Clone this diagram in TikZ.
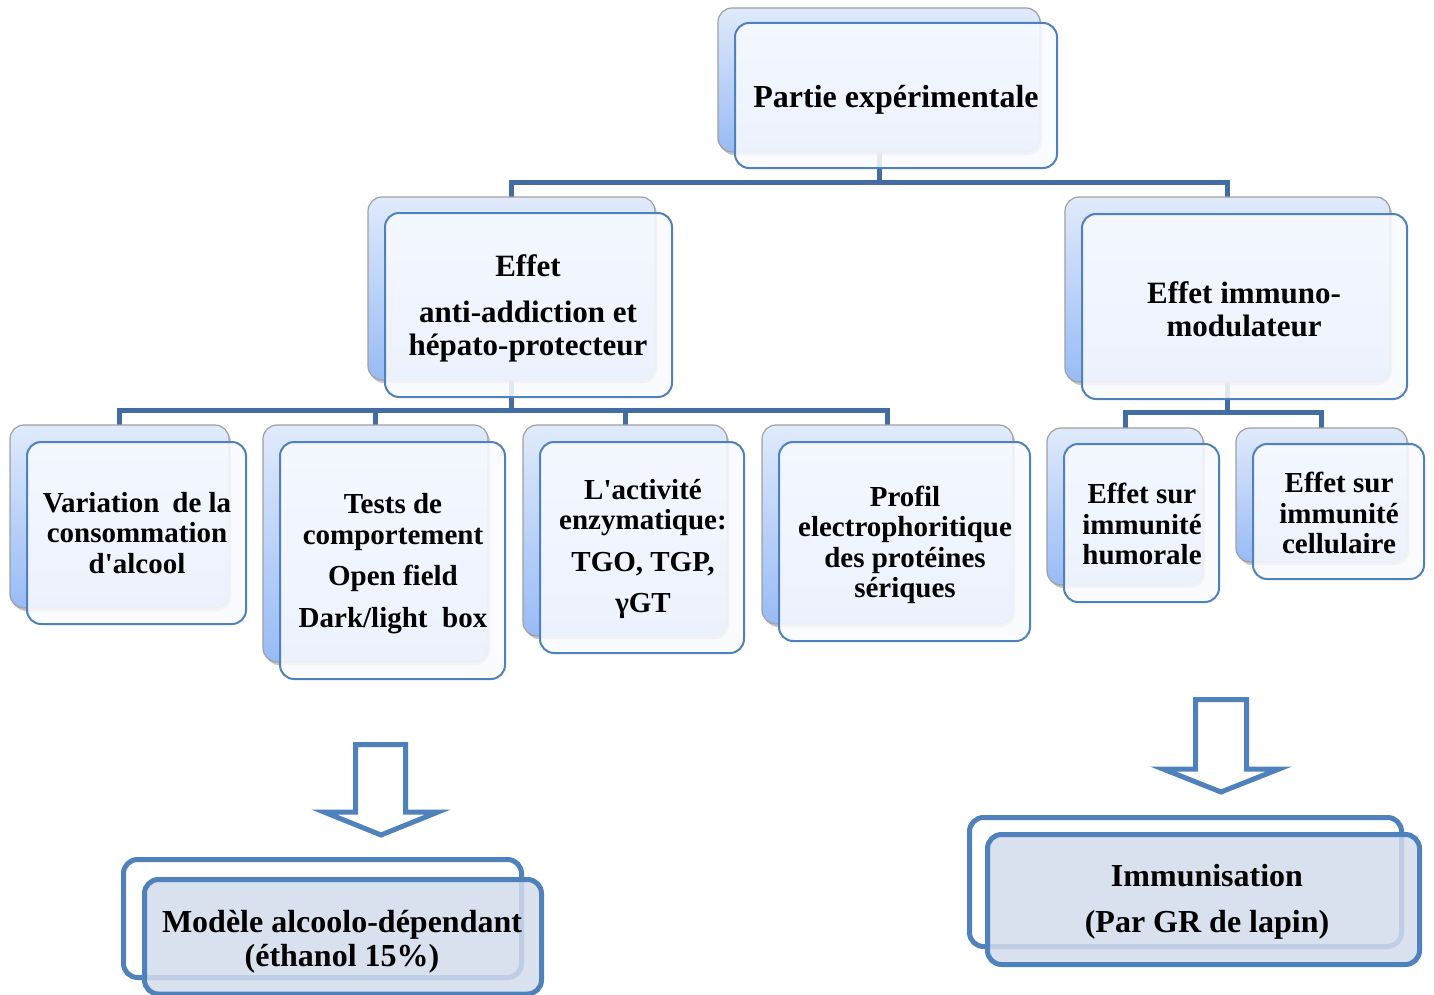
\documentclass[tikz,border=0pt]{standalone}
\usepackage{fontspec}
\setmainfont{Liberation Serif}
\usetikzlibrary{fit,shadows,calc}
\definecolor{bord}{RGB}{79,129,189}
\definecolor{conncol}{RGB}{66,108,162}
\definecolor{backtop}{RGB}{224,234,251}
\definecolor{backbot}{RGB}{152,187,245}
\definecolor{frontfill}{RGB}{248,250,255}
\definecolor{botfill}{RGB}{211,220,236}
\tikzset{
  backbox/.style={rounded corners=7pt, draw=gray!75, line width=0.6pt,
    top color=backtop, bottom color=backbot, inner sep=0pt,
    drop shadow={shadow xshift=1pt, shadow yshift=-1.5pt, opacity=0.45}},
  frontbox/.style={rounded corners=7pt, draw=bord, line width=1pt,
    fill=frontfill, fill opacity=0.88, inner sep=0pt},
  botback/.style={rounded corners=7pt, draw=bord, line width=2.5pt, fill=white, inner sep=0pt},
  botfront/.style={rounded corners=7pt, draw=bord, line width=2.5pt,
    fill=botfill, fill opacity=0.85, inner sep=0pt},
  conn/.style={draw=conncol, line width=2.5pt},
  bigarrow/.style={draw=bord, line width=2.5pt, fill=white, line join=miter},
  txtA/.style={align=center, inner sep=0pt, font=\fontsize{16}{17}\selectfont\bfseries},
  txtB/.style={align=center, inner sep=0pt, font=\fontsize{15.5}{16.5}\selectfont\bfseries},
  txtC/.style={align=center, inner sep=0pt, font=\fontsize{14.5}{15.2}\selectfont\bfseries},
}
\begin{document}
\begin{tikzpicture}[x=0.5pt,y=-0.5pt]
\useasboundingbox (0,0) rectangle (1434,995);
% junction coordinates
\coordinate (j0) at (879,182);
\coordinate (j1) at (511.5,410);
\coordinate (j2) at (1227.5,412);
% invisible anchors for connectors (back boxes positions)
\node[inner sep=0pt, fit={(718,8)(1040,152)}] (t0n) {};
\node[inner sep=0pt, fit={(368,197)(655,380)}] (l2an) {};
\node[inner sep=0pt, fit={(1065,197)(1390,382)}] (l2bn) {};
\node[inner sep=0pt, fit={(10,425)(229,608)}] (c1n) {};
\node[inner sep=0pt, fit={(263,425)(488,662)}] (c2n) {};
\node[inner sep=0pt, fit={(523,425)(727,636)}] (c3n) {};
\node[inner sep=0pt, fit={(762,425)(1013,624)}] (c4n) {};
\node[inner sep=0pt, fit={(1047,428)(1203,585)}] (c5n) {};
\node[inner sep=0pt, fit={(1236,428)(1407,562)}] (c6n) {};
\draw[conn] (t0n.south) -- (j0);
\draw[conn] (l2an.north) |- (j0) -| (l2bn.north);
\draw[conn] (l2an.south) -- (j1);
\draw[conn] (c1n.north) |- (j1) -| (c4n.north);
\draw[conn] (c2n.north) -- (c2n.north |- j1);
\draw[conn] (c3n.north) -- (c3n.north |- j1);
\draw[conn] (l2bn.south) -- (j2);
\draw[conn] (c5n.north) |- (j2) -| (c6n.north);
% boxes
\node[backbox, fit={(718,8)(1040,152)}] (t0b) {};
\node[frontbox, fit={(735,23)(1057,168)}] (t0f) {};
\node[backbox, fit={(368,197)(655,380)}] (l2ab) {};
\node[frontbox, fit={(385,213)(672,397)}] (l2af) {};
\node[backbox, fit={(1065,197)(1390,382)}] (l2bb) {};
\node[frontbox, fit={(1082,214)(1407,399)}] (l2bf) {};
\node[backbox, fit={(10,425)(229,608)}] (c1b) {};
\node[frontbox, fit={(27,442)(246,624)}] (c1f) {};
\node[backbox, fit={(263,425)(488,662)}] (c2b) {};
\node[frontbox, fit={(280,442)(505,679)}] (c2f) {};
\node[backbox, fit={(523,425)(727,636)}] (c3b) {};
\node[frontbox, fit={(540,442)(744,653)}] (c3f) {};
\node[backbox, fit={(762,425)(1013,624)}] (c4b) {};
\node[frontbox, fit={(779,442)(1030,641)}] (c4f) {};
\node[backbox, fit={(1047,428)(1203,585)}] (c5b) {};
\node[frontbox, fit={(1064,444)(1219,602)}] (c5f) {};
\node[backbox, fit={(1236,428)(1407,562)}] (c6b) {};
\node[frontbox, fit={(1253,444)(1424,579)}] (c6f) {};
% texts
\node[txtA] (t0t) at (896,100) {Partie expérimentale};
\node[txtB] (l2at) at (528,308) {Effet\\[6.5pt]anti-addiction et\\hépato-protecteur};
\node[txtB] (l2bt) at (1244,309) {Effet immuno-\\modulateur};
\node[txtC] (c1t) at (137,533) {Variation\hspace{0.45em}de la\\consommation\\d\textquotesingle alcool};
\node[txtC] (c2t) at (393,564) {Tests de\\comportement\\[5.5pt]Open field\\[6pt]Dark/light\ \ box};
\node[txtC] (c3t) at (643,549) {L\textquotesingle activité\\enzymatique:\\[5.5pt]TGO, TGP,\\[5.5pt]γGT};
\node[txtC] (c4t) at (905,545) {Profil\\electrophoritique\\des protéines\\sériques};
\node[txtC] (c5t) at (1142,524) {Effet sur\\immunité\\humorale};
\node[txtC] (c6t) at (1339,513) {Effet sur\\immunité\\cellulaire};
% big arrows
\draw[bigarrow] (355.5,744.5) -- (405.5,744.5) -- (405.5,812) -- (438,812) -- (381,835) -- (324,812) -- (355.5,812) -- cycle;
\draw[bigarrow] (1195.5,699.5) -- (1246.5,699.5) -- (1246.5,769) -- (1279,769) -- (1221,792) -- (1163,769) -- (1195.5,769) -- cycle;
% bottom boxes
\node[botback, fit={(123.5,859.5)(521.5,977.5)}] (m1b) {};
\node[botfront, fit={(144.5,879.5)(541.5,994)}] (m1f) {};
\node[txtA] (m1t) at (342,942) {Modèle alcoolo-dépendant\\(éthanol 15\%)};
\node[botback, fit={(969.5,817.5)(1401.5,946.5)}] (m2b) {};
\node[botfront, fit={(987.5,834.5)(1419.5,964.5)}] (m2f) {};
\node[txtA] (m2t) at (1207,902) {Immunisation\\[6pt](Par GR de lapin)};
\end{tikzpicture}
\end{document}
